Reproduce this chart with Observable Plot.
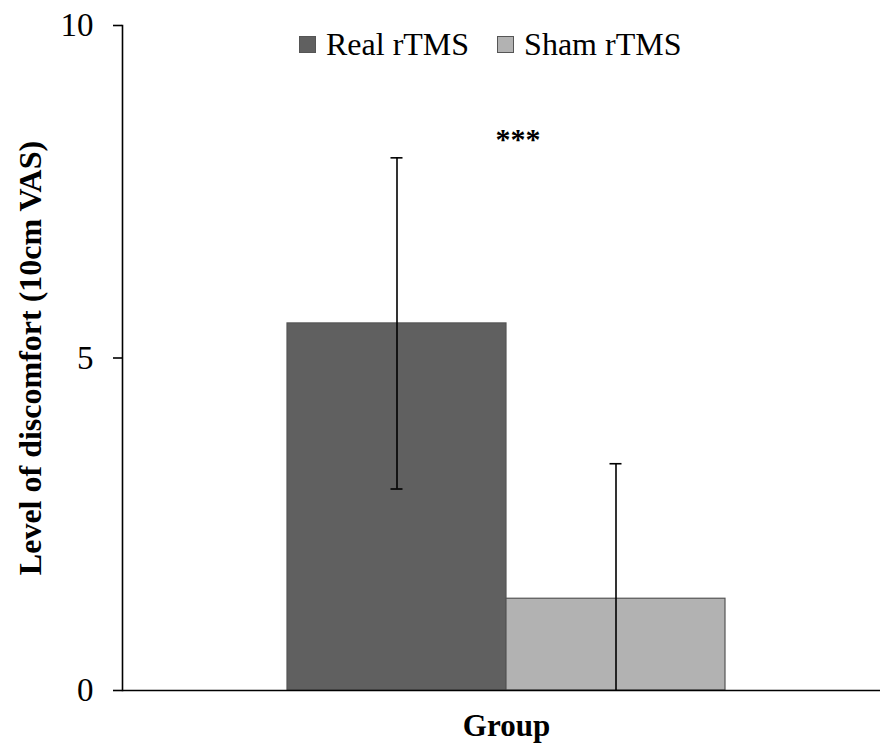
<!DOCTYPE html>
<html>
<head>
<meta charset="utf-8">
<script src="https://cdn.jsdelivr.net/npm/d3@7"></script>
<script src="https://cdn.jsdelivr.net/npm/@observablehq/plot@0.6"></script>
<style>
  html, body { margin: 0; padding: 0; background: #fff; }
  #wrap { position: relative; width: 880px; height: 749px; font-family: "Liberation Serif", serif; }
  #legend { position: absolute; top: 26px; left: 299px; display: flex; align-items: center; font-size: 32px; color: #000; }
  .item { display: flex; align-items: center; margin-right: 28px; }
  .sw { width: 15px; height: 15px; border: 1px solid #555; margin-right: 10px; box-sizing: content-box; }
</style>
</head>
<body>
<div id="wrap"><div id="legend"></div></div>
<script>
const groups = ["Real rTMS", "Sham rTMS"];
const means = [5.52, 1.38];
const sds = [2.49, 2.03];
const colors = ["#606060", "#b2b2b2"];
const yTicks = [0, 5, 10];
const yLabel = "Level of discomfort (10cm VAS)";
const xLabel = "Group";
const sigLabel = "***";
const sigValue = 8.3;

const data = groups.map((g, i) => ({group: g, mean: means[i], sd: sds[i]}));
const caps = [];
data.forEach(d => {
  caps.push({group: d.group, y: d.mean + d.sd});
  if (d.mean - d.sd > 0) caps.push({group: d.group, y: d.mean - d.sd});
});

const font = "Liberation Serif, serif";
const chart = Plot.plot({
  width: 880,
  height: 749,
  marginLeft: 122,
  marginRight: 0,
  marginTop: 25,
  marginBottom: 59,
  style: {fontFamily: font, background: "#fff", color: "#000"},
  x: {domain: groups, paddingInner: 0, paddingOuter: 0.727, align: 0.517, axis: null},
  y: {domain: [0, 10], axis: null},
  color: {domain: groups, range: colors},
  marks: [
    Plot.barY(data, {x: "group", y: "mean", fill: "group", stroke: "#555", strokeWidth: 1.2}),
    Plot.ruleX(data, {x: "group", y1: d => Math.max(0, d.mean - d.sd), y2: d => d.mean + d.sd, stroke: "#000", strokeWidth: 1.6}),
    Plot.tickY(caps, {x: "group", y: "y", stroke: "#000", strokeWidth: 1.6, insetLeft: 103.5, insetRight: 103.5}),
    Plot.frame({anchor: "left", stroke: "#000", strokeWidth: 1.6}),
    Plot.ruleY([0], {stroke: "#000", strokeWidth: 1.6}),
    Plot.axisY({ticks: yTicks, tickSize: 9, tickPadding: 20, fontSize: 33, stroke: "#000", strokeWidth: 1.6, fill: "#000", label: null, tickFormat: d => String(d)}),
    Plot.text([yLabel], {frameAnchor: "left", textAnchor: "middle", dx: -92, rotate: -90, text: d => d, fontSize: 32, fontWeight: "bold", fill: "#000"}),
    Plot.text([xLabel], {frameAnchor: "bottom", dx: 5, dy: 45, text: d => d, fontSize: 31, fontWeight: "bold", fill: "#000"}),
    Plot.text([{group: groups[0], y: sigValue}], {x: "group", y: "y", dx: 121, dy: 1, text: () => sigLabel, fontSize: 30, fontWeight: "bold", fill: "#000"})
  ]
});
document.getElementById("wrap").prepend(chart);

const legend = document.getElementById("legend");
groups.forEach((g, i) => {
  const item = document.createElement("div");
  item.className = "item";
  const sw = document.createElement("div");
  sw.className = "sw";
  sw.style.background = colors[i];
  const t = document.createElement("span");
  t.textContent = g;
  item.appendChild(sw);
  item.appendChild(t);
  legend.appendChild(item);
});
</script>
</body>
</html>
